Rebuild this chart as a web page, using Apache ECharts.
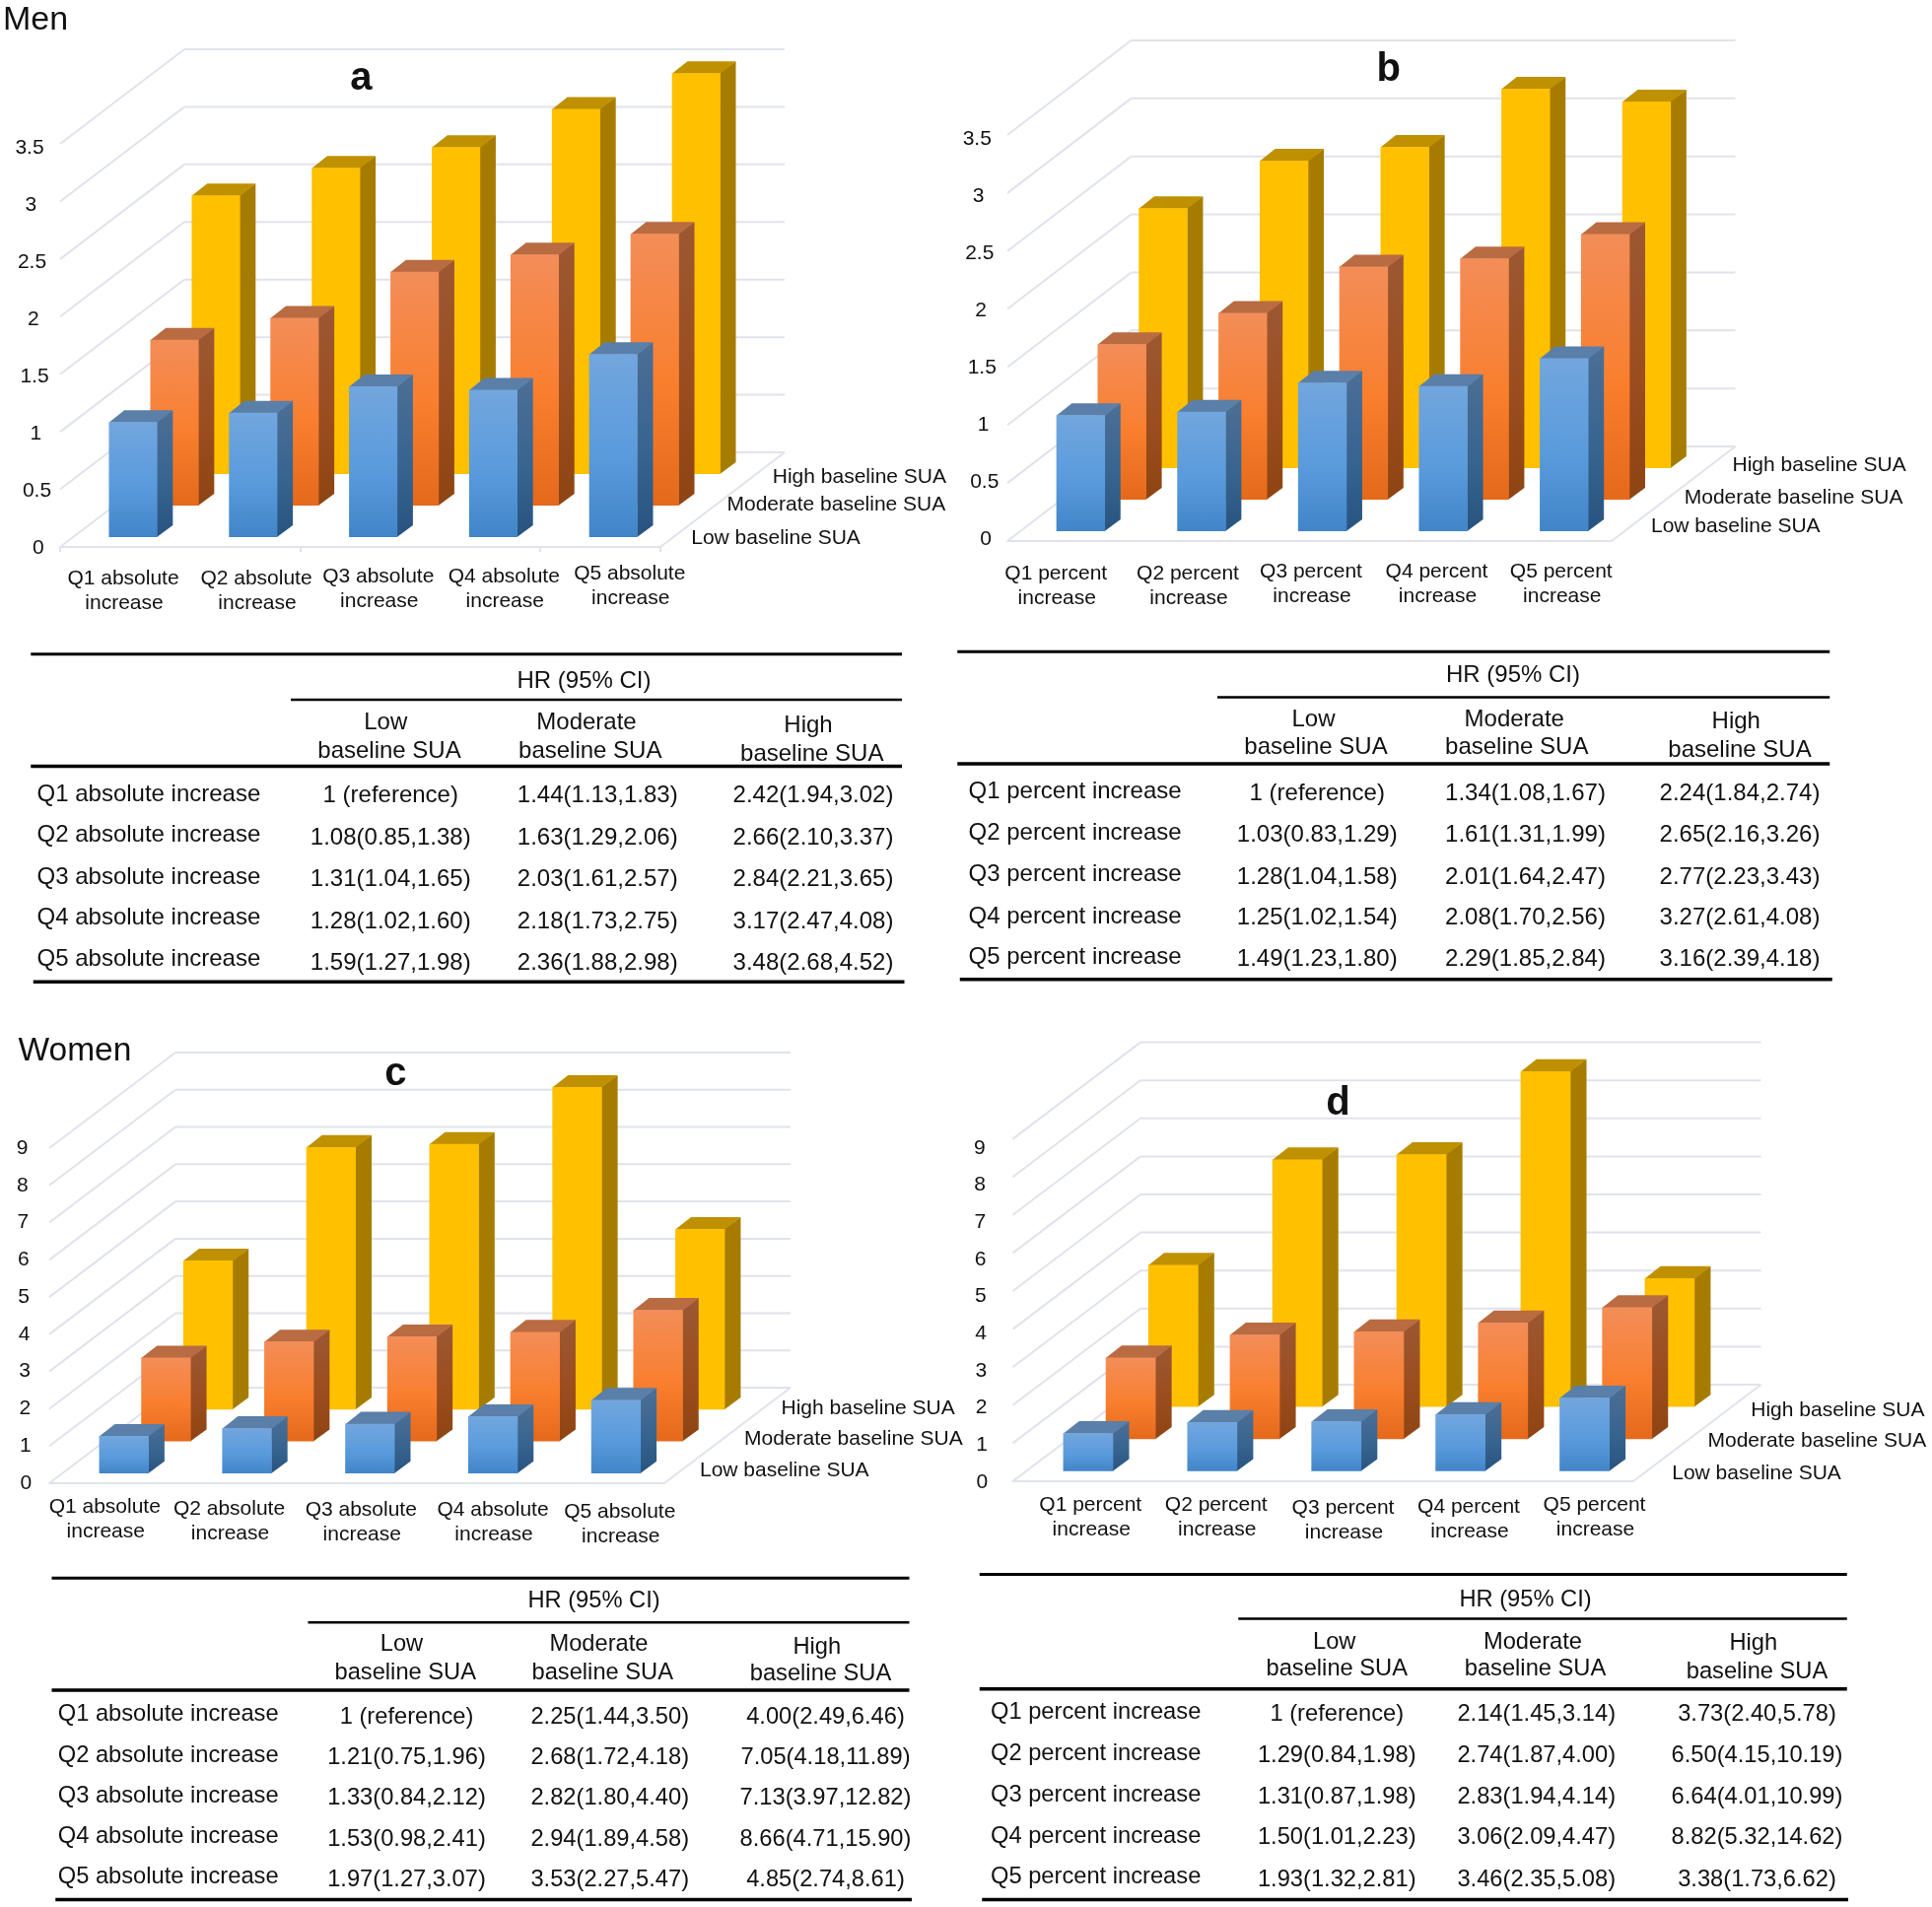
<!DOCTYPE html>
<html>
<head>
<meta charset="utf-8">
<title>HR by SUA increase and baseline SUA</title>
<script src="https://cdn.jsdelivr.net/npm/echarts@6/dist/echarts.min.js"></script>
<style>
  html, body { margin: 0; padding: 0; background: #fff; }
  #main { width: 1960px; height: 1935px; }
</style>
</head>
<body>
<div id="main"></div>
<script>
// ---- data ----
var seriesNames = ['Low baseline SUA', 'Moderate baseline SUA', 'High baseline SUA'];
var catsAbsolute = ['Q1 absolute increase', 'Q2 absolute increase', 'Q3 absolute increase', 'Q4 absolute increase', 'Q5 absolute increase'];
var catsPercent = ['Q1 percent increase', 'Q2 percent increase', 'Q3 percent increase', 'Q4 percent increase', 'Q5 percent increase'];
var ticksMen = [0, 0.5, 1, 1.5, 2, 2.5, 3, 3.5];
var ticksWomen = [0, 1, 2, 3, 4, 5, 6, 7, 8, 9];

var lowA = [1, 1.08, 1.31, 1.28, 1.59];
var modA = [1.44, 1.63, 2.03, 2.18, 2.36];
var highA = [2.42, 2.66, 2.84, 3.17, 3.48];
var lowB = [1, 1.03, 1.28, 1.25, 1.49];
var modB = [1.34, 1.61, 2.01, 2.08, 2.29];
var highB = [2.24, 2.65, 2.77, 3.27, 3.16];
var lowC = [1, 1.21, 1.33, 1.53, 1.97];
var modC = [2.25, 2.68, 2.82, 2.94, 3.53];
var highC = [4.00, 7.05, 7.13, 8.66, 4.85];
var lowD = [1, 1.29, 1.31, 1.50, 1.93];
var modD = [2.14, 2.74, 2.83, 3.06, 3.46];
var highD = [3.73, 6.50, 6.64, 8.82, 3.38];

var rowsA = [
  ['1 (reference)', '1.44(1.13,1.83)', '2.42(1.94,3.02)'],
  ['1.08(0.85,1.38)', '1.63(1.29,2.06)', '2.66(2.10,3.37)'],
  ['1.31(1.04,1.65)', '2.03(1.61,2.57)', '2.84(2.21,3.65)'],
  ['1.28(1.02,1.60)', '2.18(1.73,2.75)', '3.17(2.47,4.08)'],
  ['1.59(1.27,1.98)', '2.36(1.88,2.98)', '3.48(2.68,4.52)']
];
var rowsB = [
  ['1 (reference)', '1.34(1.08,1.67)', '2.24(1.84,2.74)'],
  ['1.03(0.83,1.29)', '1.61(1.31,1.99)', '2.65(2.16,3.26)'],
  ['1.28(1.04,1.58)', '2.01(1.64,2.47)', '2.77(2.23,3.43)'],
  ['1.25(1.02,1.54)', '2.08(1.70,2.56)', '3.27(2.61,4.08)'],
  ['1.49(1.23,1.80)', '2.29(1.85,2.84)', '3.16(2.39,4.18)']
];
var rowsC = [
  ['1 (reference)', '2.25(1.44,3.50)', '4.00(2.49,6.46)'],
  ['1.21(0.75,1.96)', '2.68(1.72,4.18)', '7.05(4.18,11.89)'],
  ['1.33(0.84,2.12)', '2.82(1.80,4.40)', '7.13(3.97,12.82)'],
  ['1.53(0.98,2.41)', '2.94(1.89,4.58)', '8.66(4.71,15.90)'],
  ['1.97(1.27,3.07)', '3.53(2.27,5.47)', '4.85(2.74,8.61)']
];
var rowsD = [
  ['1 (reference)', '2.14(1.45,3.14)', '3.73(2.40,5.78)'],
  ['1.29(0.84,1.98)', '2.74(1.87,4.00)', '6.50(4.15,10.19)'],
  ['1.31(0.87,1.98)', '2.83(1.94,4.14)', '6.64(4.01,10.99)'],
  ['1.50(1.01,2.23)', '3.06(2.09,4.47)', '8.82(5.32,14.62)'],
  ['1.93(1.32,2.81)', '3.46(2.35,5.08)', '3.38(1.73,6.62)']
];

// ---- layout (label and table numbers were measured on the 1568 wide preview, k scales them up) ----
var k = 1.25;
var FONT = '"Liberation Sans", Arial, sans-serif';
var WALL = '#e0e3ec';

var panels = [
  { letter: 'a', letterPos: [293, 62], cats: catsAbsolute, ticks: ticksMen, values: [lowA, modA, highA], rows: rowsA,
    left: 61, width: 609, bottom: 555, height: 409, dx: 126, dy: 96, ticksOn: true, tableFont: 24,
    yLabels: { x0: 31, y0: 443, x1: 24, y1: 118 },
    xLabels: [[100, 468], [208, 468], [307, 466], [409, 466], [511, 464]],
    legend: [[561, 435], [590, 408], [627, 385]],
    table: { top: 531, sub: 568, mid: 622, bot: 797, x0: 25, x1: 732, subX: 236, botX0: 27, botX1: 734, hr: [474, 552],
      head: [[313, 586, 316, 609], [476, 586, 479, 609], [656, 588, 659, 611]],
      rowX: 30, rowY: [644, 677, 711, 744, 778], colX: [317, 485, 660], valY: [645, 679, 713, 747, 781] } },
  { letter: 'b', letterPos: [1127, 55], cats: catsPercent, ticks: ticksMen, values: [lowB, modB, highB], rows: rowsB,
    left: 1022, width: 613, bottom: 549, height: 412, dx: 125.5, dy: 96, ticksOn: false, tableFont: 24,
    yLabels: { x0: 800, y0: 436, x1: 793, y1: 111 },
    xLabels: [[857, 464], [964, 464], [1064, 462], [1166, 462], [1267, 462]],
    legend: [[1340, 425], [1367, 402], [1406, 376]],
    table: { top: 529, sub: 566, mid: 620, bot: 795, x0: 777, x1: 1485, subX: 988, botX0: 779, botX1: 1487, hr: [1228, 547],
      head: [[1066, 583, 1068, 606], [1229, 583, 1231, 606], [1409, 585, 1412, 608]],
      rowX: 786, rowY: [642, 675, 709, 743, 776], colX: [1069, 1238, 1412], valY: [643, 677, 711, 744, 778] } },
  { letter: 'c', letterPos: [321, 870], cats: catsAbsolute, ticks: ticksWomen, values: [lowC, modC, highC], rows: rowsC,
    left: 50, width: 624, bottom: 1505, height: 340, dx: 128, dy: 97, ticksOn: false, tableFont: 23.7,
    yLabels: { x0: 21, y0: 1202, x1: 18, y1: 930 },
    xLabels: [[85, 1221], [186, 1223], [293, 1224], [400, 1224], [503, 1225]],
    legend: [[568, 1192], [604, 1166], [634, 1141]],
    table: { top: 1281, sub: 1317, mid: 1372, bot: 1542, x0: 42, x1: 738, subX: 250, botX0: 45, botX1: 740, hr: [482, 1299],
      head: [[326, 1334, 329, 1357], [486, 1334, 489, 1357], [663, 1336, 666, 1358]],
      rowX: 47, rowY: [1391, 1424, 1457, 1490, 1523], colX: [330, 495, 670], valY: [1393, 1426, 1459, 1492, 1525] } },
  { letter: 'd', letterPos: [1086, 894], cats: catsPercent, ticks: ticksWomen, values: [lowD, modD, highD], rows: rowsD,
    left: 1027.5, width: 629.5, bottom: 1503, height: 347.4, dx: 129.5, dy: 98, ticksOn: false, tableFont: 23.7,
    yLabels: { x0: 797, y0: 1201, x1: 795, y1: 930 },
    xLabels: [[885, 1220], [987, 1220], [1090, 1222], [1192, 1221], [1294, 1220]],
    legend: [[1357, 1194], [1386, 1168], [1421, 1143]],
    table: { top: 1278, sub: 1314, mid: 1371, bot: 1542, x0: 795, x1: 1499, subX: 1005, botX0: 797, botX1: 1500, hr: [1238, 1298],
      head: [[1083, 1332, 1085, 1354], [1244, 1332, 1246, 1354], [1423, 1333, 1426, 1356]],
      rowX: 804, rowY: [1389, 1423, 1456, 1490, 1523], colX: [1085, 1247, 1426], valY: [1391, 1424, 1458, 1491, 1525] } }
];

function vgrad(top, mid, bot) {
  return { type: 'linear', x: 0, y: 0, x2: 0, y2: 1, colorStops: [
    { offset: 0, color: top }, { offset: 0.55, color: mid }, { offset: 1, color: bot }
  ] };
}

// low, moderate, high
var barStyles = [
  { front: vgrad('#72a6de', '#5a9bdc', '#4185c8'), side: vgrad('#4c6f96', '#386490', '#285380'), top: '#5a7fa8' },
  { front: vgrad('#f38d58', '#f97f2f', '#e4691b'), side: vgrad('#9c5833', '#9b4d1f', '#8e4412'), top: '#b96b42' },
  { front: '#ffc000', side: '#a67c00', top: '#bf9000' }
];

// ---- 3D look: each series sits one step deeper on the floor, shifted by dx,dy ----
var BAR_DEPTH = 0.375, BAR_GAP = 0.3125, BAR_WIDTH = 0.403;

function wallItem(p) {
  return function (params, api) {
    var v = api.value(1);
    var a = api.coord([0, v]);
    var band = api.size([1, 0])[0];
    var x0 = a[0] - band / 2;
    var line = { stroke: WALL, lineWidth: 2, fill: null };
    var kids = [
      { type: 'line', shape: { x1: x0, y1: a[1], x2: x0 + p.dx, y2: a[1] - p.dy }, style: line },
      { type: 'line', shape: { x1: x0 + p.dx, y1: a[1] - p.dy, x2: x0 + p.dx + p.width, y2: a[1] - p.dy }, style: line }
    ];
    if (v === 0) {
      kids.push({ type: 'line', shape: { x1: x0 + p.width, y1: a[1], x2: x0 + p.width + p.dx, y2: a[1] - p.dy }, style: line });
    }
    return { type: 'group', children: kids };
  };
}

function barItem(p, s) {
  var st = barStyles[s];
  var stepX = p.dx / 3, stepY = p.dy / 3;
  return function (params, api) {
    var i = api.value(0);
    var t = api.coord([i, api.value(1)]);
    var b = api.coord([i, 0]);
    var w = api.size([1, 0])[0] * BAR_WIDTH;
    var ox = (s + BAR_GAP) * stepX, oy = (s + BAR_GAP) * stepY;
    var ddx = BAR_DEPTH * stepX, ddy = BAR_DEPTH * stepY;
    var x0 = t[0] - w / 2 + ox, x1 = x0 + w;
    var yt = t[1] - oy, yb = b[1] - oy;
    return { type: 'group', children: [
      { type: 'polygon', shape: { points: [[x1 - 0.5, yt], [x1 + ddx, yt - ddy], [x1 + ddx, yb - ddy], [x1 - 0.5, yb]] }, style: { fill: st.side } },
      { type: 'polygon', shape: { points: [[x0, yt + 0.5], [x0 + ddx, yt - ddy], [x1 + ddx, yt - ddy], [x1, yt + 0.5]] }, style: { fill: st.top } },
      { type: 'rect', shape: { x: x0, y: yt, width: w, height: yb - yt }, style: { fill: st.front } }
    ] };
  };
}

// ---- text and table rules ----
var graphics = [];
var TEXT_NUDGE = 2.5;  // Liberation sits a little high with verticalAlign middle
var TABLE_LIFT = 1.3;

function text(str, x, y, size, align, weight) {
  graphics.push({ type: 'text', silent: true, x: x, y: y + TEXT_NUDGE, style: {
    text: str, fill: '#111', align: align || 'center', verticalAlign: 'middle',
    font: (weight || 'normal') + ' ' + size + 'px ' + FONT
  } });
}
function rule(x0, x1, y, w) {
  graphics.push({ type: 'line', silent: true, shape: { x1: x0 * k, y1: y * k, x2: x1 * k, y2: y * k }, style: { stroke: '#000', lineWidth: w } });
}

text('Men', 3, 18, 34, 'left');
text('Women', 18.5, 1064, 33.5, 'left');

var grids = [], xAxes = [], yAxes = [], series = [];

panels.forEach(function (p, n) {
  grids.push({ left: p.left, top: p.bottom - p.height, width: p.width, height: p.height });
  xAxes.push({
    type: 'category', gridIndex: n, data: p.cats, boundaryGap: true,
    axisLine: { show: true, lineStyle: { color: WALL, width: 2 } },
    axisTick: { show: p.ticksOn, length: 5, lineStyle: { color: WALL, width: 2 } },
    axisLabel: { show: false }
  });
  yAxes.push({
    type: 'value', gridIndex: n, min: 0, max: p.ticks[p.ticks.length - 1], interval: p.ticks[1] - p.ticks[0],
    axisLine: { show: false }, axisTick: { show: false }, splitLine: { show: false },
    axisLabel: { show: false }
  });
  series.push({
    type: 'custom', xAxisIndex: n, yAxisIndex: n, silent: true, z: 1,
    encode: { x: 0, y: 1 },
    data: p.ticks.map(function (v) { return [0, v]; }),
    renderItem: wallItem(p)
  });
  // deepest series first so the nearer ones paint over it
  for (var s = 2; s >= 0; s--) {
    series.push({
      type: 'custom', name: seriesNames[s], xAxisIndex: n, yAxisIndex: n, silent: true, z: 5 - s,
      encode: { x: 0, y: 1 },
      data: p.values[s].map(function (v, i) { return [i, v]; }),
      renderItem: barItem(p, s)
    });
  }

  // the value labels lean with the wall in the original, so they are placed along a slanted line
  var yl = p.yLabels, last = p.ticks.length - 1;
  p.ticks.forEach(function (v, i) {
    var f = i / last;
    text(String(v), (yl.x0 + (yl.x1 - yl.x0) * f) * k, (yl.y0 + (yl.y1 - yl.y0) * f) * k, 21);
  });

  text(p.letter, p.letterPos[0] * k, p.letterPos[1] * k, 40, 'center', 'bold');
  p.cats.forEach(function (c, i) {
    var words = c.split(' increase')[0];
    text(words, p.xLabels[i][0] * k, p.xLabels[i][1] * k, 21);
    text('increase', p.xLabels[i][0] * k + 1, (p.xLabels[i][1] + 20) * k, 21);
  });
  seriesNames.forEach(function (name, s) {
    text(name, p.legend[s][0] * k, p.legend[s][1] * k, 21, 'left');
  });

  var t = p.table, fs = p.tableFont;
  rule(t.x0, t.x1, t.top, 3);
  rule(t.subX, t.x1, t.sub, 2.5);
  rule(t.x0, t.x1, t.mid, 3.5);
  rule(t.botX0, t.botX1, t.bot, 3.5);
  text('HR (95% CI)', t.hr[0] * k, t.hr[1] * k - TABLE_LIFT, fs);
  ['Low', 'Moderate', 'High'].forEach(function (h, c) {
    var q = t.head[c];
    text(h, q[0] * k, q[1] * k - TABLE_LIFT, fs);
    text('baseline SUA', q[2] * k, q[3] * k - TABLE_LIFT, fs);
  });
  p.cats.forEach(function (c, r) {
    text(c, t.rowX * k, t.rowY[r] * k - TABLE_LIFT, fs, 'left');
    p.rows[r].forEach(function (cell, col) {
      text(cell, t.colX[col] * k, t.valY[r] * k - TABLE_LIFT, fs);
    });
  });
});

var myChart = echarts.init(document.getElementById('main'), null, { renderer: 'canvas' });
myChart.setOption({
  animation: false,
  backgroundColor: '#fff',
  tooltip: { show: false },
  grid: grids,
  xAxis: xAxes,
  yAxis: yAxes,
  series: series,
  graphic: { elements: graphics }
});
</script>
</body>
</html>
